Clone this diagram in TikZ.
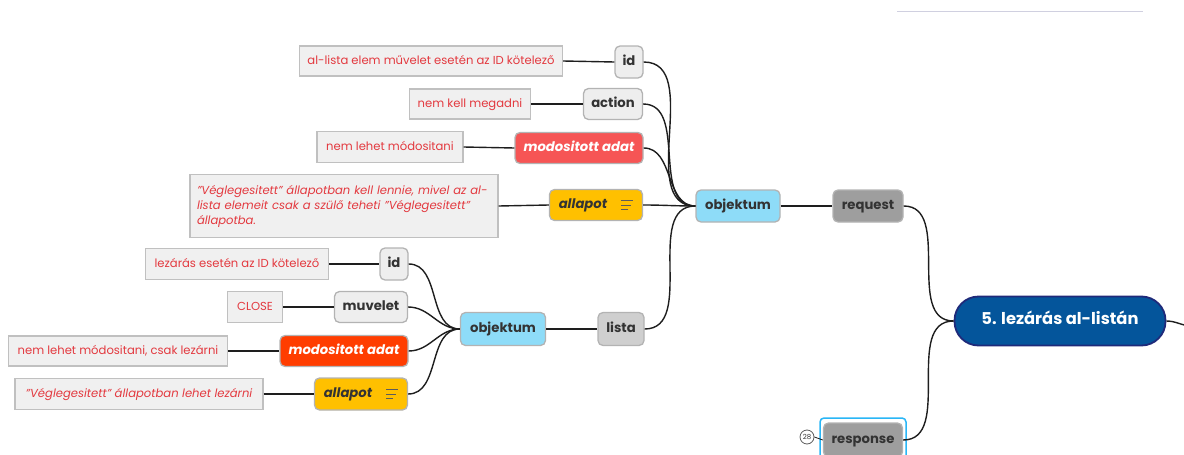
\documentclass[tikz,border=0pt]{standalone}
\usepackage{fontspec}
\setmainfont{Poppins}
\definecolor{bordgray}{HTML}{B3B3B3}
\definecolor{topicfill}{HTML}{EEEEEE}
\definecolor{objfill}{HTML}{8EDCF8}
\definecolor{reqfill}{HTML}{9E9E9E}
\definecolor{listafill}{HTML}{CFCFCF}
\definecolor{redA}{HTML}{F65555}
\definecolor{redB}{HTML}{FF3D00}
\definecolor{yel}{HTML}{FFC000}
\definecolor{rootfill}{HTML}{04559B}
\definecolor{rootbord}{HTML}{1F2A7A}
\definecolor{notefill}{HTML}{F0F0F0}
\definecolor{notebord}{HTML}{C0C0C0}
\definecolor{notered}{HTML}{E3393F}
\definecolor{txtdark}{HTML}{333333}
\definecolor{linecol}{HTML}{1E1E1E}
\definecolor{selblue}{HTML}{29B6F6}
\definecolor{rulecol}{HTML}{D0D0E0}
\begin{document}
\begin{tikzpicture}[x=1pt,y=-1pt,
  topic/.style={draw=bordgray, line width=1.3pt, rounded corners=5pt, inner sep=0pt,
    text height=0.8em, text depth=0.12em,
    font=\fontsize{13.2}{15}\selectfont\bfseries, text=txtdark, fill=topicfill},
  hot/.style={topic, text=white, font=\fontsize{13.2}{15}\selectfont\bfseries\itshape},
  yeltopic/.style={topic, fill=yel, font=\fontsize{13.2}{15}\selectfont\bfseries\itshape},
  note/.style={draw=notebord, fill=notefill, line width=1.3pt, inner sep=0pt,
    text height=0.8em, text depth=0.12em,
    font=\fontsize{11.6}{14}\selectfont, text=notered},
  conn/.style={draw=linecol, line width=1.4pt},
  icon/.style={draw=txtdark!80, line width=1pt}
]
\useasboundingbox (0,0) rectangle (1184,455);
\draw[rulecol, line width=1pt] (897,11) -- (1143,11);

% root
\node[draw=rootbord, fill=rootfill, line width=1.8pt, rounded corners=24pt, inner sep=0pt,
  minimum width=211pt, minimum height=49pt, text=white, text height=0.8em, text depth=0.12em,
  font=\fontsize{16.3}{18}\selectfont\bfseries] (root) at (1060,321) {5. lezárás al-listán};
\coordinate (rootout) at (1192,326);

% request / response
\node[topic, fill=reqfill, minimum width=70pt, minimum height=32pt] (req) at (868,206) {request};
\node[draw=selblue, line width=1.5pt, rounded corners=4pt, minimum width=86pt, minimum height=44pt] (respsel) at (863,440) {};
\node[topic, fill=reqfill, minimum width=79pt, minimum height=34pt] (resp) at (863,440) {response};
\node[draw=txtdark!80, circle, line width=0.8pt, inner sep=0pt, minimum size=14pt,
  font=\fontsize{7}{8}\selectfont, text=txtdark] (num) at (807,437) {28};

% top objektum branch
\node[topic, fill=objfill, minimum width=84pt, minimum height=32pt] (obj1) at (738,206) {objektum};
\node[topic, minimum width=28pt, minimum height=32pt] (id1) at (629,62) {id};
\node[topic, minimum width=59pt, minimum height=31pt] (act) at (613,104) {action};
\node[hot, fill=redA, minimum width=128pt, minimum height=31pt] (mod1) at (579,148) {modositott adat};
\node[yeltopic, minimum width=93pt, minimum height=31pt] (al1) at (596,205) {allapot\kern26pt};
\draw[icon] ([xshift=-22pt,yshift=4.5pt]al1.east) -- ++(12,0);
\draw[icon] ([xshift=-22pt,yshift=0pt]al1.east) -- ++(10,0);
\draw[icon] ([xshift=-22pt,yshift=-4.5pt]al1.east) -- ++(7,0);

\node[note, minimum width=263pt, minimum height=30pt] (n1) at (431,61) {al-lista elem művelet esetén az ID kötelező};
\node[note, minimum width=121pt, minimum height=30pt] (n2) at (470,104) {nem kell megadni};
\node[note, minimum width=146pt, minimum height=31pt] (n3) at (390,147) {nem lehet módositani};
\node[note, minimum width=308pt, minimum height=63pt, text width=294pt, inner xsep=7pt, align=left,
  text height=, text depth=,
  font=\fontsize{11.6}{15}\selectfont\itshape] (n4) at (344,206)
  {"Véglegesitett" állapotban kell lennie, mivel az al-\\lista elemeit csak a szülő teheti "Véglegesitett"\\állapotba.};

% lista branch
\node[topic, fill=listafill, minimum width=46pt, minimum height=33pt] (lista) at (621,329) {lista};
\node[topic, fill=objfill, minimum width=85pt, minimum height=33pt] (obj2) at (503,329) {objektum};
\node[topic, minimum width=28pt, minimum height=32pt] (id2) at (394,264) {id};
\node[topic, minimum width=73pt, minimum height=31pt] (muv) at (371,307) {muvelet};
\node[hot, fill=redB, minimum width=128pt, minimum height=31pt] (mod2) at (344,351) {modositott adat};
\node[yeltopic, minimum width=93pt, minimum height=32pt] (al2) at (361,394) {allapot\kern26pt};
\draw[icon] ([xshift=-22pt,yshift=4.5pt]al2.east) -- ++(12,0);
\draw[icon] ([xshift=-22pt,yshift=0pt]al2.east) -- ++(10,0);
\draw[icon] ([xshift=-22pt,yshift=-4.5pt]al2.east) -- ++(7,0);

\node[note, minimum width=183pt, minimum height=31pt] (m1) at (237,264) {lezárás esetén az ID kötelező};
\node[note, minimum width=55pt, minimum height=31pt] (m2) at (255,307) {CLOSE};
\node[note, minimum width=219pt, minimum height=30pt] (m3) at (118,351) {nem lehet módositani, csak lezárni};
\node[note, minimum width=248pt, minimum height=31pt, font=\fontsize{11.6}{14}\selectfont\itshape] (m4) at (139,394) {"Véglegesitett" állapotban lehet lezárni};

% connectors
\draw[conn] (root.east) to[out=0,in=180] (rootout);
\draw[conn] (req.east) to[out=0,in=180] (root.west);
\draw[conn] (resp.east) to[out=0,in=180] (root.west);
\draw[conn, line width=0.8pt] (num.east) -- (resp.west);
\draw[conn] (obj1.east) -- (req.west);
\foreach \c in {id1,act,mod1,al1,lista}
  \draw[conn] (\c.east) to[out=0,in=180] (obj1.west);
\foreach \c in {id2,muv,mod2,al2}
  \draw[conn] (\c.east) to[out=0,in=180] (obj2.west);
\draw[conn] (obj2.east) -- (lista.west);
\draw[conn] (n1.east) -- (id1.west);
\draw[conn] (n2.east) -- (act.west);
\draw[conn] (n3.east) -- (mod1.west);
\draw[conn] (n4.east) -- (al1.west);
\draw[conn] (m1.east) -- (id2.west);
\draw[conn] (m2.east) -- (muv.west);
\draw[conn] (m3.east) -- (mod2.west);
\draw[conn] (m4.east) -- (al2.west);
\end{tikzpicture}
\end{document}
